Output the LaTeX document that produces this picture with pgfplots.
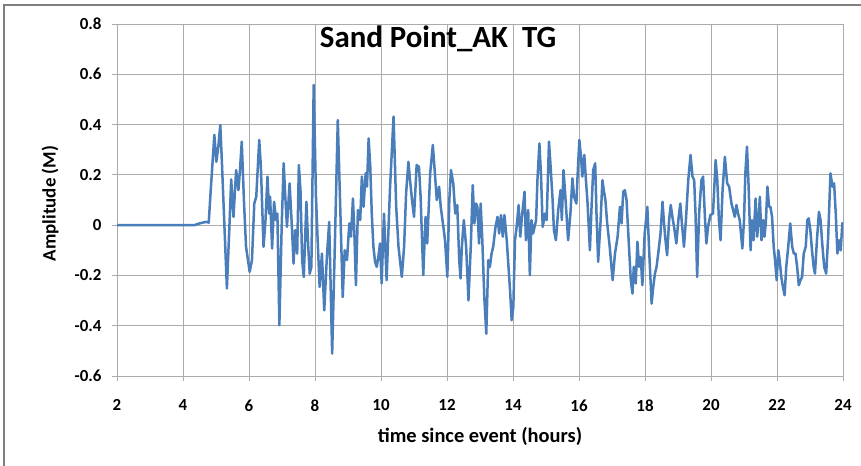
\documentclass[border=0pt]{standalone}
\usepackage{pgfplots}
\pgfplotsset{compat=1.18}
\usepackage{fontspec}
\setmainfont{Carlito}

\definecolor{exblue}{HTML}{4A7EBB}
\definecolor{exgrid}{HTML}{ABABAB}
\definecolor{exframe}{HTML}{7F7F7F}

\begin{document}
\begin{tikzpicture}[x=1bp,y=1bp]
  \useasboundingbox (0,0) rectangle (861,466);
  % outer chart frame (left and top edges are visible in the original)
  \draw[exframe, line width=1.5bp] (4,0) -- (4,461) -- (861,461);
  \begin{axis}[
        at={(117bp,90bp)}, anchor=south west,
        scale only axis,
        width=726bp, height=352bp,
        xmin=2, xmax=24, ymin=-0.6, ymax=0.8,
        xtick={2,4,...,24},
        ytick={-0.6,-0.4,...,0.8},
        yticklabels={-0.6,-0.4,-0.2,0,0.2,0.4,0.6,0.8},
        xmajorgrids, ymajorgrids,
        grid style={exgrid, line width=0.8bp},
        axis line style={exgrid, line width=0.8bp},
        tick style={exgrid, line width=0.8bp},
        tick align=outside, major tick length=5bp,
        xtick pos=bottom, ytick pos=left,
        /pgf/number format/assume math mode=true,
        ticklabel style={font=\fontsize{17}{19}\selectfont\bfseries},
        xticklabel style={yshift=-15bp},
        yticklabel style={xshift=-7bp},
        xlabel={time since event (hours)},
        ylabel={Amplitude (M)},
        xlabel style={font=\fontsize{20.5}{23}\selectfont\bfseries,
                      at={(axis description cs:0.5,-0.173)}, anchor=center},
        ylabel style={font=\fontsize{19}{22}\selectfont\bfseries,
                      at={(axis description cs:-0.092,0.49)}, anchor=center},
    ]
\addplot [exblue, line width=2.5bp, line join=round] coordinates {
 (2,0) (4.35,0) (4.45,0.005) (4.6,0.01) (4.7,0.013) (4.78,0.01)
 (4.84,0.139) (4.95,0.359) (5.01,0.252) (5.07,0.312) (5.13,0.398) (5.18,0.246)
 (5.26,-0.02) (5.33,-0.252) (5.41,0.007) (5.46,0.182) (5.53,0.033) (5.61,0.219)
 (5.68,0.139) (5.73,0.226) (5.78,0.332) (5.85,0.086) (5.91,-0.086) (6.02,-0.186)
 (6.09,-0.139) (6.16,0.086) (6.22,0.113) (6.31,0.339) (6.36,0.232) (6.44,-0.086)
 (6.50,0.02) (6.56,0.193) (6.61,0.046) (6.64,0.113) (6.70,-0.093) (6.76,0.093)
 (6.82,0.02) (6.86,0.046) (6.92,-0.398) (6.99,-0.007)
 (7.05,0.246) (7.10,0.113) (7.15,-0.007) (7.23,0.166) (7.30,-0.007) (7.35,-0.153)
 (7.40,-0.02) (7.46,-0.113) (7.51,0.239) (7.56,0.139) (7.61,-0.139) (7.66,-0.206)
 (7.74,0.093) (7.79,-0.073) (7.84,-0.193) (7.89,-0.166) (7.96,0.558) (8.03,0.113)
 (8.08,-0.06) (8.14,-0.246) (8.21,-0.113) (8.28,-0.339) (8.36,-0.126) (8.43,0.013)
 (8.52,-0.511) (8.60,-0.086) (8.69,0.418) (8.77,0.046) (8.84,-0.286) (8.90,-0.10)
 (8.97,-0.139) (9.04,0.007) (9.09,-0.046) (9.15,0.106) (9.19,-0.02) (9.24,-0.239)
 (9.30,0.06) (9.37,0.02) (9.42,0.193) (9.47,0.073) (9.535,0.206) (9.575,0.153)
 (9.625,0.345) (9.675,0.232)
 (9.72,0.046) (9.77,-0.086) (9.82,-0.146) (9.87,-0.166) (9.92,-0.126) (9.97,-0.073)
 (10.02,-0.232) (10.09,0.046) (10.17,-0.219) (10.27,0.139) (10.38,0.432) (10.46,0.073)
 (10.53,-0.086) (10.63,-0.206) (10.70,-0.086) (10.76,0.126) (10.83,0.252) (10.88,0.179)
 (10.94,0.10) (11.00,0.033) (11.08,0.239) (11.15,0.232) (11.20,0.113) (11.28,-0.199)
 (11.35,0.033) (11.40,-0.073) (11.49,0.206) (11.57,0.319) (11.64,0.193) (11.69,0.10)
 (11.76,0.153) (11.81,0.073) (11.89,-0.007) (11.94,-0.06) (12.01,-0.206) (12.07,0.10)
 (12.12,0.219) (12.19,0.166) (12.25,0.046) (12.31,0.08) (12.37,-0.139) (12.41,-0.212)
 (12.45,-0.086) (12.51,0.02) (12.58,-0.086) (12.65,-0.299) (12.72,-0.086) (12.78,0.159)
 (12.83,0.007) (12.88,0.086) (12.92,0.073) (12.97,-0.073) (13.02,0.086) (13.07,-0.06)
 (13.13,-0.286) (13.19,-0.432) (13.25,-0.139) (13.30,-0.166) (13.35,-0.113) (13.40,-0.086)
 (13.47,-0.007) (13.53,0.033) (13.58,-0.033) (13.635,0.04) (13.69,-0.046) (13.74,0.04)
 (13.81,-0.06) (13.87,-0.179) (13.91,-0.259) (13.96,-0.378) (14.01,-0.325) (14.06,-0.06)
 (14.11,-0.007) (14.17,0.08) (14.22,-0.046) (14.27,0.033) (14.35,0.133) (14.39,-0.06)
 (14.46,0.06) (14.51,-0.199) (14.56,0.02) (14.61,-0.033) (14.70,0.02) (14.74,0.179)
 (14.80,0.325) (14.85,0.193) (14.90,-0.007) (14.97,0.046) (15.02,0.02) (15.09,0.332)
 (15.14,0.232) (15.20,0.10)
 (15.24,-0.02) (15.30,-0.06) (15.37,0.06) (15.44,0.139) (15.48,0.02) (15.53,0.219)
 (15.58,0.126) (15.62,0.046) (15.67,-0.06) (15.74,0.046) (15.80,0.186) (15.85,0.113)
 (15.92,0.086) (15.96,0.206) (16.01,0.339) (16.06,0.272) (16.10,0.193) (16.16,0.279)
 (16.21,0.179) (16.26,0.086) (16.33,-0.10) (16.38,0.073) (16.43,0.219) (16.49,0.246)
 (16.53,0.046) (16.58,-0.146) (16.65,0.007) (16.71,0.179) (16.75,0.139) (16.80,0.10)
 (16.85,0.013) (16.93,-0.086) (17.02,-0.219) (17.09,-0.113) (17.17,-0.046) (17.24,0.073)
 (17.29,0.007) (17.34,0.133) (17.39,0.139) (17.44,0.10) (17.52,-0.10) (17.57,-0.219)
 (17.62,-0.272) (17.66,-0.166) (17.72,-0.232) (17.77,-0.066) (17.82,-0.166) (17.87,-0.126)
 (17.92,-0.239)
 (17.99,-0.033) (18.07,0.073) (18.13,-0.113) (18.20,-0.312) (18.25,-0.246) (18.30,-0.193)
 (18.35,-0.166) (18.40,-0.113) (18.47,-0.033) (18.53,0.093) (18.57,0.02) (18.61,-0.046)
 (18.67,-0.12) (18.73,0.02) (18.78,0.08) (18.83,0.033) (18.88,-0.007) (18.95,-0.073)
 (19.01,0.02) (19.07,0.086) (19.11,0.02) (19.18,-0.086) (19.24,0.02) (19.31,0.179)
 (19.38,0.279) (19.44,0.193) (19.49,0.179) (19.53,0.046) (19.58,-0.206) (19.64,0.046)
 (19.71,0.179) (19.76,0.193) (19.82,0.02) (19.86,-0.073) (19.91,-0.007) (19.98,0.04)
 (20.06,0.046) (20.14,0.259) (20.19,0.179) (20.24,0.02) (20.29,-0.06) (20.35,0.139)
 (20.42,0.272) (20.49,0.166) (20.55,0.153) (20.62,0.086)
 (20.67,0.06) (20.72,0.033) (20.77,0.08) (20.82,0.046) (20.87,0.02) (20.95,-0.093)
 (21.00,0.02) (21.04,0.206) (21.09,0.312) (21.14,0.153) (21.17,0.02) (21.20,-0.10)
 (21.24,0.02) (21.29,-0.06) (21.35,0.106) (21.40,-0.046) (21.44,0.02) (21.48,0.113)
 (21.53,-0.06) (21.58,0.02) (21.62,-0.046) (21.66,0.007) (21.71,0.153) (21.76,0.073)
 (21.80,0.073) (21.85,0.033) (21.90,-0.086) (21.94,-0.139) (21.99,-0.219) (22.04,-0.10)
 (22.08,-0.139) (22.13,-0.206) (22.18,-0.246) (22.23,-0.279) (22.28,-0.166) (22.34,-0.086)
 (22.40,0.007) (22.46,-0.086) (22.51,-0.113) (22.56,-0.113) (22.61,-0.166) (22.66,-0.239)
 (22.71,-0.219) (22.76,-0.206) (22.81,-0.113) (22.87,-0.086) (22.92,0.02) (22.96,0.027)
 (23.01,-0.02) (23.06,-0.10) (23.11,-0.166) (23.15,-0.193) (23.21,-0.06) (23.27,0.053)
 (23.32,0.02) (23.37,-0.073) (23.43,-0.166) (23.49,-0.193) (23.55,-0.046) (23.62,0.206)
 (23.68,0.153) (23.73,0.166) (23.78,0.046) (23.83,-0.113) (23.88,-0.06) (23.93,-0.10)
 (23.98,0.007) (24,0.01)
};
  \end{axis}
  \node[anchor=base, font=\fontsize{31}{34}\selectfont\bfseries] at (438,418) {Sand Point\_AK\ \ TG};
\end{tikzpicture}
\end{document}
